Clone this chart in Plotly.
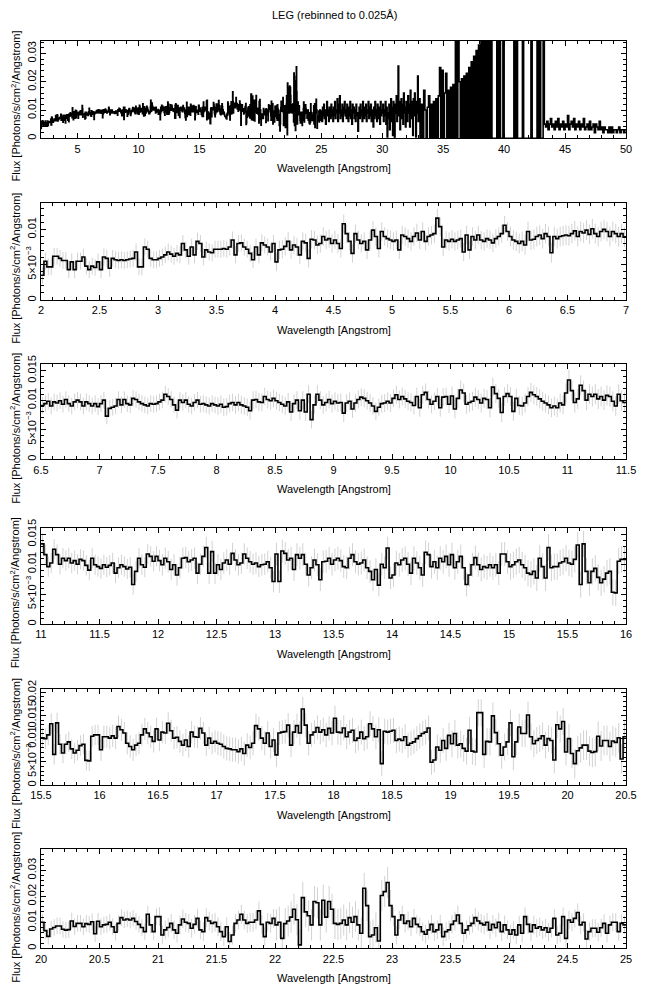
import numpy as np
import plotly.graph_objects as go

# ---------------- data (flux in units of 1e-3 photons/s/cm^2/Angstrom) ----------------
# 0.025 Angstrom bins, 2.0 - 7.0 A
flux_2_7 = [
    3.5, 5.5, 4.7, 4.7, 6.2, 6.2, 5.9, 5.6, 5.6, 4.3, 5.4, 4.3, 5.5, 5.5, 6.1, 4.8, 4.3, 4.8, 4.6, 5.4,
    4.3, 6.1, 5.9, 4.5, 5.9, 5.7, 5.6, 5.7, 5.6, 5.7, 5.8, 5.9, 6.8, 4.7, 4.7, 7.5, 7.2, 5.9, 5.7, 5.7,
    5.9, 6.1, 6.4, 6.8, 6.5, 6.2, 6.6, 6.4, 8.0, 7.1, 6.2, 7.5, 6.4, 8.3, 8.0, 6.1, 7.1, 6.8, 6.7, 7.2,
    7.2, 7.2, 7.3, 7.2, 7.5, 8.5, 6.4, 8.0, 8.1, 7.5, 7.2, 6.6, 5.7, 7.5, 6.4, 8.1, 7.8, 7.5, 6.8, 8.0,
    5.4, 7.1, 7.2, 7.6, 8.3, 7.1, 7.8, 7.5, 6.4, 8.3, 8.1, 5.9, 8.6, 8.5, 7.8, 8.0, 9.0, 8.5, 8.7, 8.0,
    8.5, 8.0, 7.3, 10.8, 9.4, 8.3, 6.6, 9.4, 8.5, 8.0, 8.3, 7.1, 8.5, 9.9, 9.0, 7.3, 9.7, 9.0, 8.7, 8.5,
    8.3, 8.5, 7.1, 9.2, 9.0, 8.7, 8.3, 9.0, 9.5, 8.5, 9.7, 8.3, 9.0, 9.2, 9.4, 11.6, 10.4, 7.5, 8.5, 8.3,
    8.6, 8.3, 8.5, 8.7, 6.8, 9.2, 7.1, 9.0, 8.5, 9.2, 8.5, 8.3, 8.7, 8.5, 8.1, 8.7, 9.0, 9.4, 10.6, 9.7,
    9.0, 8.5, 8.3, 8.0, 8.3, 7.8, 9.7, 8.5, 8.6, 9.0, 9.2, 8.7, 9.4, 9.0, 6.7, 9.0, 8.7, 9.0, 9.1, 9.2,
    9.1, 9.4, 9.8, 9.0, 9.7, 9.5, 9.9, 9.3, 10.1, 9.4, 9.0, 9.7, 10.0, 9.7, 9.0, 9.7, 9.4, 9.0, 9.4, 8.9,
]
# 7.0 - 11.0 A
flux_7_11 = [
    9.4, 10.0, 7.3, 8.6, 8.8, 9.0, 10.1, 9.2, 10.1, 9.4, 9.2, 10.3, 10.1, 9.7, 9.4, 9.2, 9.0, 9.4, 9.3, 9.4,
    9.7, 10.0, 11.0, 10.6, 10.1, 9.2, 8.3, 10.0, 9.6, 10.0, 9.3, 9.0, 9.6, 10.0, 9.3, 9.4, 9.2, 9.0, 9.4, 9.2,
    9.0, 9.3, 8.8, 8.9, 9.4, 9.6, 9.2, 9.6, 9.2, 9.0, 8.8, 8.2, 10.0, 10.1, 9.7, 9.6, 10.6, 10.1, 9.9, 10.3,
    9.9, 9.6, 9.3, 9.0, 9.7, 8.0, 9.4, 10.0, 8.2, 10.0, 8.0, 11.0, 6.7, 9.2, 11.0, 10.0, 9.2, 9.6, 10.1, 9.4,
    9.8, 9.5, 9.6, 7.8, 9.5, 9.8, 8.5, 9.5, 10.1, 10.5, 10.3, 9.9, 9.5, 9.0, 8.1, 8.8, 9.4, 9.5, 9.8, 9.5,
    10.3, 10.9, 10.1, 10.6, 10.2, 9.8, 9.6, 9.1, 10.6, 8.7, 10.9, 11.3, 10.1, 9.3, 9.8, 10.6, 8.7, 10.5, 10.6, 9.3,
    10.7, 8.5, 10.3, 11.7, 11.2, 9.3, 9.6, 9.8, 10.5, 10.1, 9.5, 10.3, 10.1, 8.7, 12.2, 11.1, 10.3, 7.9, 10.6, 11.1,
    10.6, 8.1, 10.3, 9.1, 9.0, 9.5, 10.6, 11.3, 10.9, 10.6, 10.2, 9.8, 9.5, 9.2, 8.7, 9.0, 8.7, 9.5, 9.2, 11.2,
]
# 11.0 - 16.0 A
flux_11_16 = [
    13.4, 11.6, 9.6, 10.2, 12.5, 11.6, 10.0, 11.0, 10.6, 11.0, 10.2, 10.6, 10.0, 10.8, 10.6, 9.8, 9.0, 11.0, 9.9, 9.6,
    9.3, 9.9, 9.5, 9.8, 10.2, 8.5, 9.4, 9.9, 9.6, 9.2, 9.5, 6.6, 8.8, 11.0, 9.9, 9.5, 11.7, 11.3, 10.5, 11.3,
    10.6, 9.9, 11.0, 10.4, 9.1, 9.9, 8.2, 9.4, 11.0, 11.1, 10.4, 10.7, 11.0, 8.5, 10.0, 11.3, 12.8, 8.5, 12.1, 8.5,
    9.9, 9.1, 10.2, 10.7, 10.0, 11.8, 10.7, 9.9, 10.2, 11.7, 11.0, 10.4, 10.0, 10.2, 9.6, 9.9, 10.0, 10.4, 9.4, 7.1,
    11.7, 7.1, 12.2, 11.8, 10.7, 11.0, 9.1, 11.6, 11.0, 11.6, 10.0, 8.2, 9.4, 10.7, 9.9, 7.4, 10.4, 10.5, 11.0, 10.0,
    10.7, 11.0, 10.6, 9.6, 9.4, 11.0, 11.6, 10.4, 10.0, 10.2, 10.7, 9.4, 8.8, 7.4, 9.1, 6.5, 10.0, 9.4, 12.7, 7.7,
    8.2, 10.2, 9.9, 10.7, 11.0, 10.0, 8.5, 11.0, 10.2, 9.4, 8.2, 12.0, 11.6, 9.6, 10.4, 9.4, 11.0, 10.4, 11.3, 9.9,
    11.6, 9.4, 10.4, 11.3, 9.4, 6.6, 8.2, 9.9, 11.1, 9.9, 9.1, 9.6, 9.4, 9.9, 9.4, 9.9, 8.5, 11.7, 11.7, 10.4,
    9.6, 9.9, 10.4, 10.7, 9.9, 9.4, 8.5, 8.3, 8.8, 7.7, 11.0, 9.6, 7.7, 12.8, 9.4, 9.6, 9.6, 10.2, 10.4, 11.0,
    10.2, 10.0, 10.8, 13.2, 6.6, 13.4, 8.8, 6.9, 8.8, 9.3, 7.8, 6.9, 7.5, 8.5, 8.8, 5.3, 5.2, 10.5, 10.8, 10.8,
]
# 16.0 - 20.0 A
flux_16_20 = [
    7.6, 10.4, 10.4, 10.1, 10.6, 10.1, 12.6, 11.9, 11.2, 9.0, 8.3, 7.6, 8.6, 9.0, 10.8, 12.1, 11.2, 10.4, 9.4, 12.1,
    9.7, 11.4, 11.2, 13.3, 11.7, 10.1, 10.3, 9.4, 8.6, 9.7, 8.3, 11.4, 10.4, 10.3, 12.2, 11.2, 8.6, 10.1, 9.0, 9.4,
    9.0, 8.8, 8.3, 7.9, 7.8, 7.6, 7.6, 7.2, 7.8, 6.8, 8.6, 8.1, 9.0, 12.8, 12.1, 10.1, 9.0, 11.2, 8.3, 9.7,
    6.5, 11.2, 11.4, 11.5, 12.9, 8.6, 11.4, 12.8, 11.2, 16.4, 12.9, 9.0, 10.8, 11.4, 12.4, 11.4, 11.9, 10.8, 12.2, 11.2,
    14.4, 11.4, 11.3, 12.3, 10.4, 11.4, 11.8, 9.6, 10.1, 11.4, 10.0, 10.4, 13.2, 12.1, 10.4, 11.9, 4.6, 11.6, 11.4, 11.6,
    11.8, 9.6, 9.9, 9.6, 10.4, 8.6, 9.0, 9.3, 10.0, 10.6, 11.1, 11.4, 12.3, 4.9, 5.4, 8.2, 7.5, 9.6, 7.9, 10.7,
    8.9, 11.1, 8.6, 8.9, 7.9, 7.3, 11.8, 7.3, 7.1, 15.6, 15.6, 6.6, 9.4, 9.3, 14.9, 11.3, 8.9, 6.4, 8.2, 9.3,
    13.4, 6.1, 9.3, 12.5, 11.1, 11.1, 15.1, 10.4, 8.9, 9.6, 10.0, 10.6, 8.6, 10.0, 9.6, 5.4, 13.0, 12.1, 13.7, 7.1,
]
# 20.0 - 25.0 A
flux_20_25 = [
    10.0, 6.8, 4.6, 7.4, 8.0, 8.6, 8.6, 7.3, 7.0, 7.2, 10.5, 8.4, 9.6, 9.6, 8.3, 9.5, 9.2, 10.2, 5.6, 10.4,
    8.3, 9.0, 9.2, 10.0, 8.3, 6.2, 9.6, 11.8, 10.9, 11.3, 10.9, 11.5, 10.3, 9.2, 8.0, 6.4, 13.1, 9.0, 6.4, 12.2,
    12.2, 5.1, 7.1, 8.0, 9.6, 7.1, 5.8, 9.0, 11.3, 10.0, 9.6, 7.7, 9.2, 11.5, 7.1, 6.4, 11.8, 10.5, 9.6, 10.0,
    8.3, 6.4, 4.5, 8.3, 2.6, 5.1, 9.6, 10.9, 13.1, 10.9, 9.6, 10.0, 10.0, 10.9, 14.4, 9.2, 4.5, 10.0, 9.6, 11.5,
    9.0, 10.0, 3.8, 9.5, 10.5, 12.0, 15.0, 11.0, 1.3, 19.5, 14.0, 12.5, 9.0, 18.0, 17.5, 9.0, 18.5, 12.0, 18.0, 15.0,
    9.6, 9.2, 9.6, 10.9, 9.0, 11.8, 10.0, 12.2, 9.0, 5.8, 23.1, 16.4, 4.5, 5.1, 7.9, 2.8, 20.3, 21.8, 25.3, 16.4,
    12.2, 5.1, 10.9, 12.8, 9.6, 10.5, 8.3, 11.5, 9.2, 8.3, 6.4, 5.4, 7.1, 9.2, 6.4, 7.1, 9.2, 4.5, 6.4, 7.1,
    9.2, 10.5, 12.8, 9.6, 5.8, 7.1, 8.7, 9.6, 11.8, 10.5, 9.6, 9.0, 10.0, 7.1, 9.2, 7.9, 10.0, 6.4, 9.0, 7.1,
    5.4, 7.1, 5.1, 9.0, 5.8, 12.2, 9.2, 6.4, 9.0, 7.7, 8.3, 7.1, 7.9, 6.2, 7.7, 11.5, 5.1, 5.8, 12.2, 3.8,
    10.9, 10.0, 11.5, 13.8, 9.0, 10.0, 3.6, 6.4, 7.7, 7.7, 6.2, 7.9, 9.6, 5.8, 9.0, 10.0, 10.0, 6.4, 9.6, 9.0,
]
# overview panel only: 0.05 Angstrom bins, 25.0 - 33.0 A
flux_25_33 = [
    9, 6, 11, 8, 12, 7, 10, 5, 9, 13, 8, 10, 6, 11, 9, 7, 12, 8, 10, 6,
    11, 8, 13, 7, 10, 9, 14, 6, 12, 9, 15, 7, 10, 8, 12, 6, 11, 9, 13, 8,
    10, 7, 12, 9, 6, 11, 8, 13, 7, 10, 5, 12, 9, 11, 7, 10, 6, 12, 8, 9,
    2.5, 9, 11, 7, 12, 8, 10, 6, 13, 9, 7, 11, 8, 12, 6, 10, 9, 13, 7, 11,
    8, 12, 6, 10, 9, 4, 11, 7, 13, 8, 10, 6, 12, 9, 7, 11, 5, 13, 8, 10,
    9, 12, 6, 10, 8, 13, 5, 11, 0.5, 9, 7, 12, 3, 10, 14, 6, 11, 1, 13, 8,
    0.5, 12, 9, 15, 6, 11, 25.5, 8, 13, 3, 10, 14, 7, 12, 5, 16, 9, 11, 4, 13,
    10, 6, 15, 9, 12, 4, 17, 10, 7, 13, 1, 14, 8, 16, 11, 0.5, 13, 9, 22, 6,
]
# overview panel only: 0.1 Angstrom bins, 33.0 - 50.0 A
flux_33_50 = [
    14, 0, 12, 0, 17, 10, 0, 11, 15, 0,
    12, 0, 13, 0, 14, 0, 15, 25, 0, 24,
    0, 16, 23, 0, 17, 0, 18, 0, 19, 0,
    40, 0, 45, 20, 0, 21, 0, 22, 0, 23,
    0, 25, 0, 27, 0, 29, 0, 31, 0, 33,
    0, 40, 0, 50, 0, 45, 0, 38, 0, 50,
    0, 0, 0, 0, 60, 0, 60, 0, 0, 60,
    0, 0, 0, 0, 0, 0, 0, 0, 60, 0,
    60, 0, 0, 0, 0, 60, 0, 0, 0, 0,
    0, 0, 60, 0, 0, 0, 0, 60, 0, 60,
    0, 0, 60, 5, 4, 6, 3, 5, 7, 4,
    5, 3, 6, 4, 7, 3, 5, 4, 6, 3,
    5, 4, 8, 3, 5, 6, 4, 7, 3, 5,
    4, 6, 3, 5, 4, 7, 3, 4, 5, 3,
    6, 3, 4, 5, 2, 5, 4, 3, 6, 3,
    4, 2, 4, 3, 3, 2, 4, 2, 4, 2,
    3, 3, 2, 3, 4, 2, 3, 3, 2, 3,
]
# 1-sigma error per 1-Angstrom segment, 2-25 A (1e-3 units)
err_per_angstrom = [1.2, 1.2, 1.3, 1.3, 1.4, 1.4, 1.5, 1.5, 1.6, 1.7, 1.8, 1.9,
                    2.0, 2.2, 2.4, 2.6, 2.7, 2.9, 3.2, 3.6, 6.0, 3.6, 3.5]

panel_xranges = [(2, 50), (2, 7), (6.5, 11.5), (11, 16), (15.5, 20.5), (20, 25)]
panel_ymax = [0.0345, 0.0137, 0.0161, 0.0160, 0.0207, 0.0382]
x_ticks_overview = [5, 10, 15, 20, 25, 30, 35, 40, 45, 50]
title_text = "LEG (rebinned to 0.025Å)"
xlabel = "Wavelength [Angstrom]"
ylabel = "Flux [Photons/s/cm<sup>2</sup>/Angstrom]"
SCI = "5×10<sup>−3</sup>"
y_ticks = [
    ([0, 0.01, 0.02, 0.03], ["0", "0.01", "0.02", "0.03"], 0.002),
    ([0, 0.005, 0.01], ["0", SCI, "0.01"], 0.001),
    ([0, 0.005, 0.01, 0.015], ["0", SCI, "0.01", "0.015"], 0.001),
    ([0, 0.005, 0.01, 0.015], ["0", SCI, "0.01", "0.015"], 0.001),
    ([0, 0.005, 0.01, 0.015, 0.02], ["0", SCI, "0.01", "0.015", "0.02"], 0.001),
    ([0, 0.01, 0.02, 0.03], ["0", "0.01", "0.02", "0.03"], 0.002),
]

# ---------------- build ----------------
BIN = 0.025
flux_fine = np.array(flux_2_7 + flux_7_11 + flux_11_16 + flux_16_20 + flux_20_25) * 1e-3
n_fine = len(flux_fine)
fine_edges = 2.0 + BIN * np.arange(n_fine + 1)
err_fine = np.repeat(np.array(err_per_angstrom) * 1e-3, 40)[:n_fine]
flux_mid = np.array(flux_25_33, dtype=float) * 1e-3
mid_edges = 25.0 + 0.05 * np.arange(len(flux_mid))
flux_far = np.array(flux_33_50, dtype=float) * 1e-3
far_edges = 33.0 + 0.1 * np.arange(len(flux_far) + 1)

W, H = 647, 995
FONT = "Liberation Sans, Arial, sans-serif"
XL, XR = 41, 626
panel_px = [(40.7, 138.3), (203.3, 300.0), (364.0, 459.3), (528.3, 624.0), (689.0, 785.0), (849.0, 948.3)]
ylabel_offset = [17, 17, 17, 17, 17, 9]

fig = go.Figure()
annotations = []

for i, (xr, ymax) in enumerate(zip(panel_xranges, panel_ymax)):
    n = i + 1
    xa = "x" if n == 1 else f"x{n}"
    ya = "y" if n == 1 else f"y{n}"
    if i == 0:
        xs = np.concatenate([fine_edges[:-1], mid_edges, far_edges])
        ys = np.concatenate([flux_fine, flux_mid, flux_far, flux_far[-1:]])
    else:
        s = int(round((xr[0] - 2.0) / BIN))
        e = s + int(round((xr[1] - xr[0]) / BIN))
        xs = fine_edges[s:e + 1]
        ys = np.concatenate([flux_fine[s:e], flux_fine[e - 1:e]])
        fig.add_trace(go.Scatter(
            x=fine_edges[s:e] + BIN / 2, y=flux_fine[s:e], mode="markers",
            marker=dict(size=1, color="rgba(0,0,0,0)"),
            error_y=dict(type="data", array=err_fine[s:e], visible=True,
                         color="#d2d2d2", thickness=1, width=0),
            xaxis=xa, yaxis=ya, showlegend=False, hoverinfo="skip"))
    fig.add_trace(go.Scatter(x=xs, y=ys, mode="lines", line=dict(color="black", width=1.6, shape="hv"),
                             xaxis=xa, yaxis=ya, showlegend=False))

    top, bot = panel_px[i]
    ydom = [1 - bot / H, 1 - top / H]
    if i == 0:
        xtv = x_ticks_overview
        xminor = 1
    else:
        xtv = list(np.arange(xr[0], xr[1] + 1e-9, 0.5))
        xminor = 0.1
    xtt = [("%g" % v) for v in xtv]
    tv, tt, ymin_d = y_ticks[i]
    axis_common = dict(showline=True, linecolor="black", linewidth=1, mirror="ticks",
                       ticks="inside", ticklen=5, tickwidth=1, tickcolor="black",
                       showgrid=False, zeroline=False, automargin=False, ticklabeloverflow="allow",
                       tickfont=dict(family=FONT, size=11, color="black"))
    fig.update_layout(**{
        ("xaxis" if n == 1 else f"xaxis{n}"): dict(
            domain=[XL / W, XR / W], anchor=ya, range=list(xr), tickmode="array",
            tickvals=xtv, ticktext=xtt,
            minor=dict(ticks="inside", ticklen=3, dtick=xminor, tick0=0, tickcolor="black", showgrid=False),
            **axis_common),
        ("yaxis" if n == 1 else f"yaxis{n}"): dict(
            domain=ydom, anchor=xa, range=[0, ymax], tickmode="array",
            tickvals=tv, ticktext=tt, tickangle=-90,
            minor=dict(ticks="inside", ticklen=3, dtick=ymin_d, tick0=0, tickcolor="black", showgrid=False),
            **axis_common),
    })
    annotations.append(dict(text=xlabel, x=(XL + XR) / 2 / W, y=1 - (bot + 30) / H, xref="paper", yref="paper",
                            showarrow=False, xanchor="center", yanchor="middle",
                            font=dict(family=FONT, size=11, color="black")))
    annotations.append(dict(text=ylabel, x=15 / W, y=1 - ((top + bot) / 2 + ylabel_offset[i]) / H,
                            xref="paper", yref="paper",
                            showarrow=False, xanchor="center", yanchor="middle", textangle=-90,
                            font=dict(family=FONT, size=11, color="black")))

annotations.append(dict(text=title_text, x=334 / W, y=1 - 15 / H, xref="paper", yref="paper",
                        showarrow=False, xanchor="center", yanchor="middle",
                        font=dict(family=FONT, size=11, color="black")))

fig.update_layout(width=W, height=H, autosize=False, margin=dict(l=0, r=0, t=0, b=0, pad=0),
                  paper_bgcolor="white", plot_bgcolor="white", annotations=annotations,
                  font=dict(family=FONT, size=11, color="black"))

fig.write_html("out.html", config={"displayModeBar": False},
               post_script="document.body.style.margin='0px';document.body.style.padding='0px';")
